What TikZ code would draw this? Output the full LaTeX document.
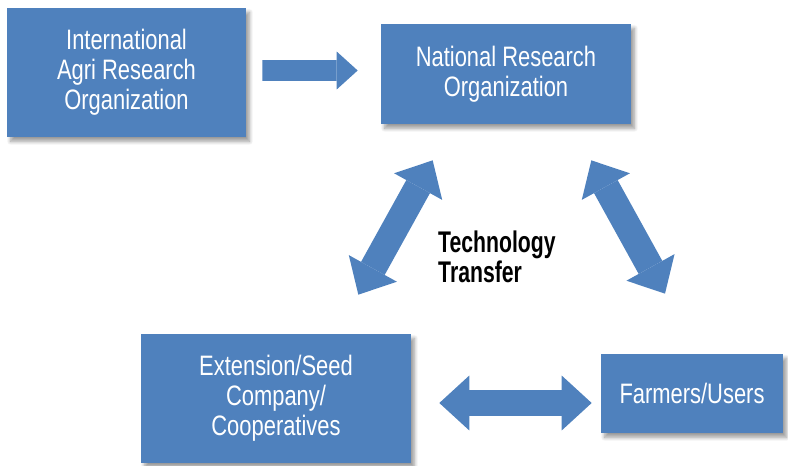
\documentclass[tikz,border=0pt]{standalone}
\usepackage{fontspec}
\setmainfont{Liberation Sans}[FakeStretch=0.78,BoldFeatures={FakeStretch=0.71}]
\usetikzlibrary{arrows.meta,shadows.blur}
\definecolor{boxblue}{HTML}{4F81BD}

\begin{document}
\begin{tikzpicture}[x=0.02cm,y=-0.02cm,font=\fontsize{16}{17}\selectfont]
  \tikzstyle{org}=[fill=boxblue,text=white,align=center,inner sep=0pt,
                   blur shadow={shadow xshift=2pt,shadow yshift=-2.5pt,shadow blur steps=8}]
  \tikzstyle{oneway}=[draw=boxblue,line width=0.42cm,
                      -{Triangle[length=0.42cm,width=0.76cm,line width=0pt]}]
  \tikzstyle{twoway}=[draw=boxblue,line width=0.54cm,
                      {Triangle[length=0.6cm,width=1.1cm,line width=0pt]}-{Triangle[length=0.6cm,width=1.1cm,line width=0pt]}]
  \useasboundingbox (0,0) rectangle (788,466);

  \node[org,minimum width=4.78cm,minimum height=2.58cm] (intl) at (126.5,72.5)
       {International\\Agri Research\\Organization};
  \node[org,minimum width=5cm,minimum height=2cm] (natl) at (506,74)
       {National Research\\Organization};
  \node[org,minimum width=5.4cm,minimum height=2.58cm] (ext) at (276,398.5)
       {Extension/Seed\\Company/\\Cooperatives};
  \node[org,minimum width=3.64cm,minimum height=1.58cm] (farm) at (692,393.5)
       {Farmers/Users};
  \node[anchor=west,align=left,font=\fontsize{17}{14.7}\selectfont\bfseries] (tt) at (432,257)
       {Technology\\Transfer};

  \draw[oneway] ([shift={(16,-2)}]intl.east) -- ([shift={(-23,-3.5)}]natl.west);
  \draw[twoway] ([shift={(52,36)}]natl.south west) -- ([shift={(-53,-39)}]ext.north east);
  \draw[twoway] ([shift={(-40,36)}]natl.south east) -- ([shift={(-27,-60)}]farm.north);
  \draw[twoway] ([shift={(28,4.5)}]ext.east) -- ([shift={(-9,9.5)}]farm.west);
\end{tikzpicture}
\end{document}
